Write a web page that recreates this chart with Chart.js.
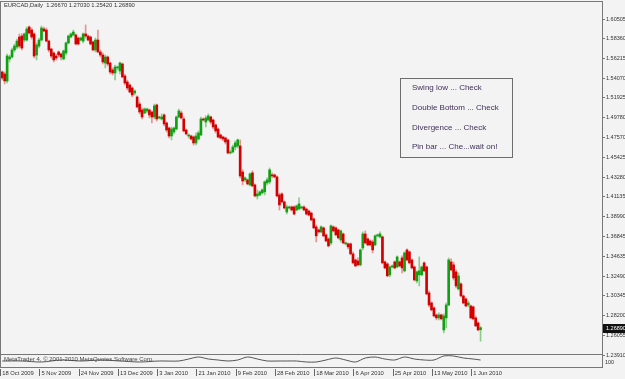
<!DOCTYPE html>
<html>
<head>
<meta charset="utf-8">
<title>EURCAD Daily</title>
<script src="https://cdn.jsdelivr.net/npm/chart.js@4/dist/chart.umd.min.js"></script>
<style>
  html, body { margin: 0; padding: 0; background: #f3f3f3; }
  #wrap { position: relative; width: 625px; height: 379px; overflow: hidden; }
  #chart { position: absolute; left: 0; top: 0; }
  .txt { position: absolute; font-family: "Liberation Sans", Arial, sans-serif; white-space: nowrap; }
  #head { left: 4px; top: 2px; font-size: 5.8px; color: #333; }
  #copy { left: 4px; top: 356px; font-size: 6px; color: #444; }
  #note { left: 400px; top: 78px; width: 113px; height: 80px; border: 1px solid #6d6d6d; box-sizing: border-box; }
  #note div { position: absolute; left: 11px; font-size: 8px; color: #3f3058; }
</style>
</head>
<body>
<div id="wrap">
  <canvas id="chart" width="625" height="379"></canvas>
  <div class="txt" id="head">EURCAD,Daily&nbsp; 1.26670 1.27030 1.25420 1.26890</div>
  <div class="txt" id="copy">MetaTrader 4, © 2001-2010 MetaQuotes Software Corp.</div>
  <div class="txt" id="note">
    <div style="top:4px">Swing low ... Check</div>
    <div style="top:24px">Double Bottom ... Check</div>
    <div style="top:44px">Divergence ... Check</div>
    <div style="top:63px">Pin bar ... Che...wait on!</div>
  </div>
</div>
<script>
// daily bars, 18 Oct 2009 .. 4 Jun 2010 (broker has Sunday bars)
const opens = [
  1.5474,1.5452,1.5376,1.5616,1.5637,1.5714,1.5746,1.5855,1.5866,1.5822,
  1.5822,1.5964,1.5931,1.5888,1.5659,1.5757,1.5822,1.5942,1.5931,1.5811,
  1.5724,1.5681,1.5648,1.5692,1.5670,1.5616,1.5681,1.5790,1.5855,1.5877,
  1.5877,1.5844,1.5822,1.5811,1.5888,1.5866,1.5855,1.5801,1.5714,1.5822,
  1.5692,1.5659,1.5572,1.5637,1.5572,1.5496,1.5463,1.5518,1.5485,1.5561,
  1.5430,1.5365,1.5332,1.5300,1.5245,1.5202,1.5125,1.5060,1.5027,1.5049,
  1.5060,1.5038,1.4984,1.5115,1.4973,1.4962,1.5006,1.4919,1.4864,1.4777,
  1.4821,1.4853,1.4984,1.5027,1.4962,1.4842,1.4777,1.4777,1.4766,1.4701,
  1.4744,1.4788,1.4962,1.4929,1.4951,1.4984,1.4951,1.4897,1.4853,1.4788,
  1.4766,1.4755,1.4734,1.4592,1.4603,1.4657,1.4668,1.4668,1.4385,1.4299,
  1.4299,1.4244,1.4375,1.4244,1.4124,1.4135,1.4157,1.4168,1.4266,1.4277,
  1.4353,1.4353,1.4331,1.4135,1.4146,1.4059,1.3949,1.3993,1.4004,1.4004,
  1.3971,1.3982,1.3993,1.4004,1.3982,1.3960,1.3938,1.3874,1.3787,1.3754,
  1.3732,1.3776,1.3700,1.3656,1.3612,1.3787,1.3776,1.3754,1.3645,1.3710,
  1.3602,1.3602,1.3602,1.3493,1.3427,1.3416,1.3373,1.3558,1.3710,1.3656,
  1.3634,1.3623,1.3591,1.3689,1.3678,1.3678,1.3406,1.3384,1.3265,1.3351,
  1.3406,1.3351,1.3406,1.3449,1.3308,1.3536,1.3515,1.3427,1.3351,1.3199,
  1.3265,1.3265,1.3395,1.3351,1.3068,1.2959,1.2905,1.2828,1.2796,1.2828,
  1.2665,1.2796,1.2937,1.3405,1.3373,1.3297,1.3111,1.3166,1.3035,1.3002,
  1.2937,1.2926,1.2916,1.2796,1.2741,1.2667
];
const highs = [
  1.5485,1.5474,1.5670,1.5659,1.5735,1.5779,1.5833,1.5888,1.5888,1.5899,
  1.5964,1.5975,1.5953,1.5899,1.5790,1.5844,1.5975,1.5964,1.5953,1.5822,
  1.5735,1.5692,1.5670,1.5703,1.5681,1.5714,1.5801,1.5877,1.5899,1.5931,
  1.5888,1.5855,1.5855,1.5899,1.5986,1.5877,1.5866,1.5811,1.5844,1.5931,
  1.5714,1.5681,1.5659,1.5648,1.5583,1.5518,1.5550,1.5539,1.5583,1.5572,
  1.5452,1.5387,1.5343,1.5311,1.5278,1.5213,1.5147,1.5082,1.5082,1.5082,
  1.5071,1.5049,1.5125,1.5125,1.4995,1.5017,1.5017,1.4929,1.4875,1.4875,
  1.4875,1.4995,1.5071,1.5049,1.4984,1.4853,1.4799,1.4788,1.4777,1.4810,
  1.4832,1.4984,1.4973,1.4995,1.5017,1.4995,1.4962,1.4908,1.4864,1.4799,
  1.4777,1.4766,1.4744,1.4625,1.4679,1.4723,1.4744,1.4734,1.4408,1.4331,
  1.4309,1.4375,1.4397,1.4255,1.4190,1.4179,1.4201,1.4287,1.4320,1.4429,
  1.4375,1.4364,1.4342,1.4157,1.4157,1.4070,1.4026,1.4015,1.4015,1.4015,
  1.4026,1.4102,1.4015,1.4015,1.3993,1.3971,1.3949,1.3884,1.3808,1.3765,
  1.3798,1.3787,1.3710,1.3667,1.3808,1.3798,1.3787,1.3765,1.3754,1.3721,
  1.3623,1.3612,1.3612,1.3515,1.3438,1.3449,1.3547,1.3732,1.3743,1.3667,
  1.3645,1.3645,1.3700,1.3710,1.3732,1.3689,1.3416,1.3395,1.3362,1.3373,
  1.3416,1.3471,1.3416,1.3471,1.3515,1.3547,1.3525,1.3438,1.3362,1.3308,
  1.3460,1.3362,1.3406,1.3362,1.3090,1.2970,1.2916,1.2839,1.2850,1.2839,
  1.2839,1.2958,1.3449,1.3438,1.3405,1.3318,1.3286,1.3177,1.3046,1.3013,
  1.2980,1.2937,1.2926,1.2817,1.2752,1.2703
];
const lows = [
  1.5387,1.5343,1.5354,1.5583,1.5626,1.5692,1.5724,1.5735,1.5714,1.5801,
  1.5811,1.5888,1.5833,1.5626,1.5605,1.5735,1.5811,1.5909,1.5801,1.5692,
  1.5626,1.5583,1.5605,1.5637,1.5605,1.5605,1.5659,1.5779,1.5844,1.5866,
  1.5768,1.5768,1.5811,1.5790,1.5844,1.5811,1.5768,1.5703,1.5692,1.5681,
  1.5637,1.5561,1.5518,1.5539,1.5452,1.5441,1.5387,1.5496,1.5452,1.5409,
  1.5332,1.5278,1.5245,1.5202,1.5224,1.5082,1.5017,1.4962,1.5017,1.5027,
  1.4973,1.4919,1.4962,1.4940,1.4962,1.4951,1.4886,1.4821,1.4755,1.4734,
  1.4799,1.4842,1.4973,1.4962,1.4821,1.4788,1.4755,1.4734,1.4679,1.4679,
  1.4734,1.4777,1.4940,1.4875,1.4940,1.4908,1.4853,1.4810,1.4755,1.4744,
  1.4723,1.4690,1.4581,1.4581,1.4592,1.4625,1.4646,1.4320,1.4244,1.4277,
  1.4244,1.4233,1.4222,1.4113,1.4091,1.4124,1.4146,1.4135,1.4244,1.4255,
  1.4320,1.4320,1.4113,1.3971,1.4048,1.3982,1.3927,1.3982,1.3960,1.3916,
  1.3960,1.3971,1.3982,1.3960,1.3916,1.3905,1.3852,1.3765,1.3623,1.3721,
  1.3721,1.3678,1.3623,1.3569,1.3591,1.3732,1.3689,1.3656,1.3623,1.3602,
  1.3591,1.3547,1.3482,1.3384,1.3351,1.3362,1.3362,1.3536,1.3602,1.3580,
  1.3580,1.3504,1.3580,1.3678,1.3667,1.3384,1.3329,1.3243,1.3243,1.3340,
  1.3329,1.3340,1.3351,1.3286,1.3297,1.3416,1.3384,1.3329,1.3199,1.3177,
  1.3144,1.3254,1.3297,1.3046,1.2915,1.2872,1.2807,1.2774,1.2774,1.2774,
  1.2632,1.2687,1.2926,1.3308,1.3209,1.3122,1.3100,1.3024,1.2948,1.2916,
  1.2916,1.2785,1.2774,1.2698,1.2654,1.2542
];
const closes = [
  1.5409,1.5376,1.5648,1.5637,1.5714,1.5757,1.5811,1.5757,1.5735,1.5888,
  1.5942,1.5899,1.5855,1.5648,1.5768,1.5822,1.5953,1.5920,1.5811,1.5714,
  1.5648,1.5605,1.5626,1.5659,1.5637,1.5703,1.5790,1.5866,1.5888,1.5909,
  1.5779,1.5779,1.5844,1.5888,1.5866,1.5822,1.5779,1.5714,1.5822,1.5692,
  1.5659,1.5583,1.5637,1.5561,1.5474,1.5463,1.5528,1.5528,1.5572,1.5420,
  1.5354,1.5300,1.5256,1.5224,1.5267,1.5093,1.5038,1.4984,1.5071,1.5071,
  1.5006,1.4984,1.5104,1.4962,1.4984,1.4984,1.4908,1.4842,1.4777,1.4853,
  1.4864,1.4984,1.5049,1.4973,1.4832,1.4799,1.4788,1.4744,1.4701,1.4777,
  1.4810,1.4962,1.4951,1.4973,1.4995,1.4929,1.4875,1.4832,1.4766,1.4755,
  1.4744,1.4712,1.4592,1.4603,1.4657,1.4701,1.4734,1.4342,1.4287,1.4320,
  1.4255,1.4364,1.4233,1.4124,1.4146,1.4168,1.4190,1.4277,1.4299,1.4408,
  1.4342,1.4331,1.4124,1.4026,1.4059,1.3993,1.4004,1.4004,1.3971,1.3927,
  1.4015,1.4037,1.4004,1.3971,1.3927,1.3916,1.3863,1.3776,1.3689,1.3732,
  1.3787,1.3689,1.3634,1.3580,1.3798,1.3743,1.3700,1.3667,1.3743,1.3612,
  1.3612,1.3569,1.3493,1.3395,1.3362,1.3373,1.3536,1.3710,1.3612,1.3591,
  1.3591,1.3536,1.3689,1.3700,1.3710,1.3395,1.3340,1.3254,1.3351,1.3362,
  1.3340,1.3460,1.3362,1.3340,1.3504,1.3427,1.3395,1.3340,1.3210,1.3297,
  1.3308,1.3351,1.3308,1.3057,1.2937,1.2883,1.2817,1.2796,1.2828,1.2785,
  1.2817,1.2937,1.3427,1.3318,1.3231,1.3144,1.3253,1.3035,1.2958,1.2926,
  1.2958,1.2796,1.2785,1.2709,1.2665,1.2689
];

// indicator sub-window line, sampled at these bar indexes
const indBars = [0,8,16,24,32,40,48,56,64,72,76,80,84,88,92,96,100,104,108,112,
  116,120,124,128,132,136,140,144,148,152,156,160,164,168,172,176,180,184,188,192,195];
const indValues = [100,100,90,110,100,110,100,90,100,100,120,140,120,110,100,110,140,120,100,100,
  100,100,90,90,110,130,110,90,130,140,120,110,140,120,110,110,150,150,130,120,110];

const priceTicks = [1.60505,1.58360,1.56215,1.54070,1.51925,1.49780,1.47570,1.45425,1.43280,
  1.41135,1.38990,1.36845,1.34635,1.32490,1.30345,1.28200,1.26055,1.23910];
const dateLabels = ["18 Oct 2009","5 Nov 2009","24 Nov 2009","13 Dec 2009","3 Jan 2010",
  "21 Jan 2010","9 Feb 2010","28 Feb 2010","18 Mar 2010","6 Apr 2010","25 Apr 2010",
  "13 May 2010","1 Jun 2010"];
const lastPrice = 1.26890;

const SLOTS = 245;      // bars plus empty space on the right
const LABEL_EVERY = 16;
const slots = Array.from({ length: SLOTS }, (_, i) => i);

const upColor = "#11a011";
const downColor = "#d40000";
const upWick = "#8ccc8c";
const downWick = "#e39494";
const fontFamily = "'Liberation Sans', Arial, sans-serif";

const isUp = closes.map((c, i) => c >= opens[i]);

const mtFrame = {
  id: "mtFrame",
  beforeDraw(chart) {
    const c = chart.ctx;
    c.save();
    c.fillStyle = "#f3f3f3";
    c.fillRect(0, 0, chart.width, chart.height);
    c.restore();
  },
  afterDraw(chart) {
    const c = chart.ctx;
    const a = chart.chartArea;
    const xs = chart.scales.x;
    const ys = chart.scales.y;
    c.save();
    c.strokeStyle = "#777";
    c.lineWidth = 1;
    c.strokeRect(a.left - 0.5, a.top - 0.5, a.right - a.left + 1, a.bottom - a.top + 1);
    // main / indicator separator
    c.beginPath();
    c.moveTo(a.left, 354.5);
    c.lineTo(a.right, 354.5);
    c.stroke();
    // date ticks and labels on the time axis
    c.strokeStyle = "#666";
    c.fillStyle = "#333";
    c.font = "5.8px " + fontFamily;
    c.textBaseline = "middle";
    c.textAlign = "left";
    dateLabels.forEach((lab, k) => {
      const px = xs.getPixelForValue(k * LABEL_EVERY);
      const x = Math.round(px) - 1.5;
      c.beginPath();
      c.moveTo(x, a.bottom + 2);
      c.lineTo(x, a.bottom + 9);
      c.stroke();
      c.fillText(lab, px, a.bottom + 6.5);
    });
    // last price box
    const py = Math.round(ys.getPixelForValue(lastPrice));
    c.fillStyle = "#111";
    c.fillRect(a.right + 1, py - 4, chart.width - a.right - 1, 9);
    c.fillStyle = "#fff";
    c.font = "5.5px " + fontFamily;
    c.fillText(lastPrice.toFixed(5), a.right + 4, py + 0.5);
    // indicator window scale label
    c.fillStyle = "#333";
    c.fillText("100", a.right + 3, 362);
    c.restore();
  }
};

new Chart(document.getElementById("chart"), {
  type: "bar",
  data: {
    labels: slots,
    datasets: [
      {
        label: "body",
        data: opens.map((o, i) => [o, closes[i]]),
        backgroundColor: isUp.map((u) => (u ? upColor : downColor)),
        barThickness: 2,
        minBarLength: 1,
        grouped: false,
        order: 1,
        yAxisID: "y",
      },
      {
        label: "wick",
        data: lows.map((l, i) => [l, highs[i]]),
        backgroundColor: isUp.map((u) => (u ? upWick : downWick)),
        barThickness: 1,
        grouped: false,
        order: 2,
        yAxisID: "y",
      },
      {
        type: "line",
        label: "indicator",
        data: indBars.map((b, k) => ({ x: b, y: indValues[k] })),
        yAxisID: "y2",
        borderColor: "#555",
        borderWidth: 1,
        pointRadius: 0,
        tension: 0.3,
        order: 0,
      },
    ],
  },
  options: {
    responsive: false,
    animation: false,
    layout: { padding: { left: 1, top: 2, right: 0, bottom: 0 } },
    plugins: { legend: { display: false }, tooltip: { enabled: false } },
    scales: {
      x: {
        offset: true,
        grid: { display: false },
        border: { display: false },
        ticks: { display: false },
        afterFit: (s) => {
          s.height = 12;
          s.paddingLeft = 0;
          s.paddingRight = 0;
        },
      },
      y: {
        position: "right",
        min: 1.2261,
        max: 1.6236,
        afterBuildTicks: (s) => {
          s.ticks = priceTicks.map((v) => ({ value: v }));
        },
        grid: { drawOnChartArea: false, tickLength: 3, color: "#777" },
        border: { display: true, color: "#777" },
        ticks: {
          padding: 1,
          color: "#333",
          font: { size: 5.5, family: fontFamily },
          callback: (v) => v.toFixed(5),
        },
        afterFit: (s) => {
          s.width = 23;
          s.paddingTop = 0;
          s.paddingBottom = 0;
        },
      },
      y2: { display: false, min: 40, max: 3690 },
    },
  },
  plugins: [mtFrame],
});
</script>
</body>
</html>
